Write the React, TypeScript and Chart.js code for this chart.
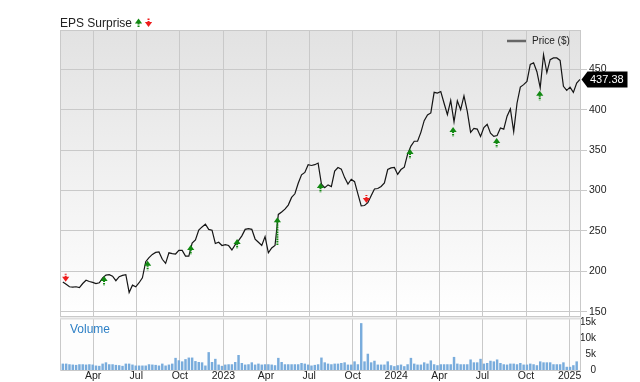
import React, { useEffect, useRef } from "react";
import { Chart, registerables } from "chart.js";

Chart.register(...registerables);

// ---------- data ----------
const FIRST_WEEK = "2022-01-27"; // weekly closes start here
const X_MIN_DATE = "2022-01-21";
const X_MAX_DATE = "2025-01-23";

const PRICE = [
  187, 184, 181, 180.5, 181, 180, 185, 189, 187.5, 186.5,
  185, 186, 192, 195.5, 196, 194, 188.5, 193.5, 195, 196,
  174, 183, 181, 186, 192, 212, 217, 221, 223.5, 224,
  215, 210, 223, 222, 221.5, 226, 226, 219, 219, 235,
  239, 251, 255, 258.5, 252, 251, 234.5, 236, 232, 233,
  232, 226.5, 233, 238, 244, 252, 253, 252, 240, 236,
  232, 243, 223, 229, 232, 270.5, 273.5, 277, 282, 291.5,
  296, 309, 319.5, 322.5, 332, 331, 332, 334, 308, 303.5,
  307, 305, 324, 328.5, 326.5, 316, 308, 314, 311, 296,
  281, 281.5, 285, 293.5, 302, 302.5, 305, 309.5, 326, 328,
  328.5, 320, 326, 329, 345, 355, 361, 361, 372, 386.5,
  393.5, 396, 421.5, 420.5, 422.5, 408, 394, 411.5, 385, 411,
  400, 417, 398, 372, 377, 376, 367, 378, 382, 371,
  367, 368, 377.5, 376, 392, 401, 373, 408, 428, 431,
  435, 456, 458, 447, 427, 468, 446, 462, 464, 464,
  461, 429, 424, 428, 421.5, 433, 437.38,
];

// weekly volume, thousands
const VOLUME_K = [
  1.9, 1.9, 1.7, 1.6, 1.5, 1.7, 1.7, 1.6, 1.7, 1.6,
  1.3, 1.2, 1.9, 2.3, 1.7, 1.7, 1.5, 1.4, 1.2, 1.9,
  1.9, 1.6, 1.3, 1.3, 1.3, 1.3, 1.7, 1.6, 1.5, 1.3,
  1.9, 1.3, 1.6, 1.9, 3.7, 2.95, 2.6, 3.3, 3.8, 3.8,
  2.7, 2.4, 2.3, 1.3, 5.5, 2.4, 3.4, 1.6, 1.2, 1.6,
  1.7, 1.7, 2.4, 4.6, 2.1, 1.6, 1.7, 2.3, 1.6, 1.9,
  1.6, 1.7, 1.7, 1.6, 1.4, 3.7, 2.4, 1.7, 1.7, 1.7,
  1.7, 1.7, 2.1, 1.9, 1.6, 1.3, 1.5, 1.7,
  3.8, 2.3, 1.9, 1.7, 1.9, 1.9, 2.1, 2.3, 1.6, 1.6,
  2.6, 1.7, 14.6, 2.6, 5.0, 2.3, 2.8, 1.6, 1.6, 1.6,
  2.6, 1.4, 1.1, 1.4, 1.6, 1.1, 1.7, 3.7, 1.9, 1.6,
  1.6, 2.3, 1.9, 2.9, 1.7, 1.4, 1.7, 1.7, 1.7, 1.7,
  4.0, 1.9, 1.7, 1.7, 1.7, 3.2, 2.3, 2.3, 3.4, 1.9,
  2.1, 2.8, 2.6, 3.2, 2.1, 1.7, 1.6, 1.9, 1.9, 1.7,
  2.1, 1.6, 1.6, 1.9, 1.7, 1.4, 2.6, 2.3, 2.3, 2.3,
  1.7, 1.7, 1.7, 2.3, 0.9, 0.9, 1.4, 2.6,
];

const QUARTER_DATES = [
  "2022-04-01", "2022-07-01", "2022-10-01", "2023-01-01",
  "2023-04-01", "2023-07-01", "2023-10-01", "2024-01-01",
  "2024-04-01", "2024-07-01", "2024-10-01", "2025-01-01",
];
const QUARTER_LABELS = ["Apr", "Jul", "Oct", "2023", "Apr", "Jul", "Oct", "2024", "Apr", "Jul", "Oct", "2025"];

const PRICE_TICKS = [150, 200, 250, 300, 350, 400, 450];
const PRICE_MIN = 143.6;
const PRICE_MAX = 498.6;
const VOLUME_TICKS_K = [0, 5, 10, 15];
const VOLUME_MAX_K = 16;

const SURPRISE_DATES = [
  "2022-02-02", "2022-04-24", "2022-07-25", "2022-10-24", "2023-01-30", "2023-04-25",
  "2023-07-25", "2023-10-30", "2024-01-30", "2024-04-30", "2024-07-31", "2024-10-30",
];
const SURPRISE_DIR = ["down", "up", "up", "up", "up", "up", "up", "down", "up", "up", "up", "up"];
const SURPRISE_PRICE = [187.2, 194.3, 213.2, 232.6, 240.0, 266.9, 309.3, 284.6, 351.4, 378.6, 365.0, 423.5];
const SURPRISE_STEM_FROM = [null, null, null, null, null, 232.6, null, null, null, null, null, null];

const LAST_PRICE = 437.38;
const TITLE = "EPS Surprise";
const LEGEND_LABEL = "Price ($)";
const VOLUME_LABEL = "Volume";

// ---------- helpers ----------
const DAY_MS = 86400000;
const EPOCH = Date.UTC(2022, 0, 1);
const toDay = (s: string) => (Date.parse(s + "T00:00:00Z") - EPOCH) / DAY_MS;
const weekDay = (i: number) => toDay(FIRST_WEEK) + 7 * i;

const FONT = "'Liberation Sans', Arial, Helvetica, sans-serif";
const GRID = "#c9c9c9";
const UP = "#118811";
const DOWN = "#ee1c1c";

function drawArrow(ctx: CanvasRenderingContext2D, x: number, tipY: number, dir: string, stemEndY?: number | null) {
  const hw = 3.6, hh = 5, sw = 2;
  ctx.save();
  ctx.fillStyle = dir === "up" ? UP : DOWN;
  ctx.strokeStyle = dir === "up" ? UP : DOWN;
  ctx.beginPath();
  if (dir === "up") {
    ctx.moveTo(x, tipY);
    ctx.lineTo(x - hw, tipY + hh);
    ctx.lineTo(x + hw, tipY + hh);
  } else {
    ctx.moveTo(x, tipY);
    ctx.lineTo(x - hw, tipY - hh);
    ctx.lineTo(x + hw, tipY - hh);
  }
  ctx.closePath();
  ctx.fill();
  const s0 = dir === "up" ? tipY + hh - 0.5 : tipY - hh + 0.5;
  const s1 = stemEndY != null ? stemEndY : dir === "up" ? s0 + 5 : s0 - 3.5;
  ctx.lineWidth = sw;
  ctx.setLineDash([1.6, 0.8]);
  ctx.beginPath();
  ctx.moveTo(x, s0);
  ctx.lineTo(x, s1);
  ctx.stroke();
  ctx.restore();
}

const pricePanelPlugin = {
  id: "pricePanel",
  beforeDraw(chart: any) {
    const { ctx, chartArea: a } = chart;
    const g = ctx.createLinearGradient(0, a.top, 0, a.bottom);
    g.addColorStop(0, "#e2e2e2");
    g.addColorStop(1, "#ffffff");
    ctx.save();
    ctx.fillStyle = g;
    ctx.fillRect(a.left, a.top, a.right - a.left, a.bottom - a.top);
    ctx.restore();
  },
  afterDatasetsDraw(chart: any) {
    const { ctx } = chart;
    const xs = chart.scales.x;
    const ys = chart.scales.y;
    SURPRISE_DATES.forEach((d, i) => {
      const x = xs.getPixelForValue(toDay(d));
      const y = ys.getPixelForValue(SURPRISE_PRICE[i]);
      const stem = SURPRISE_STEM_FROM[i];
      drawArrow(ctx, x, y, SURPRISE_DIR[i], stem != null ? ys.getPixelForValue(stem) : null);
    });
  },
  afterDraw(chart: any) {
    const { ctx, chartArea: a } = chart;
    ctx.save();
    // border
    ctx.strokeStyle = GRID;
    ctx.lineWidth = 1;
    ctx.strokeRect(a.left + 0.5, a.top + 0.5, a.right - a.left, a.bottom - a.top - 1);
    // title
    ctx.font = `12px ${FONT}`;
    ctx.fillStyle = "#222";
    ctx.textBaseline = "alphabetic";
    ctx.textAlign = "left";
    ctx.fillText(TITLE, a.left, 27);
    const tw = ctx.measureText(TITLE).width;
    drawArrow(ctx, a.left + tw + 6.5, 18.5, "up", 27);
    drawArrow(ctx, a.left + tw + 16.5, 27, "down", 18.5);
    // legend
    ctx.strokeStyle = "#666";
    ctx.lineWidth = 2.5;
    ctx.beginPath();
    ctx.moveTo(a.right - 73, 41);
    ctx.lineTo(a.right - 54, 41);
    ctx.stroke();
    ctx.font = `10px ${FONT}`;
    ctx.fillStyle = "#222";
    ctx.textBaseline = "middle";
    ctx.fillText(LEGEND_LABEL, a.right - 48, 41.5);
    // last price tag
    const yl = chart.scales.y.getPixelForValue(LAST_PRICE);
    const x0 = a.right + 1.5;
    ctx.fillStyle = "#000";
    ctx.beginPath();
    ctx.moveTo(x0, yl);
    ctx.lineTo(x0 + 6, yl - 8);
    ctx.lineTo(x0 + 46, yl - 8);
    ctx.lineTo(x0 + 46, yl + 8);
    ctx.lineTo(x0 + 6, yl + 8);
    ctx.closePath();
    ctx.fill();
    ctx.fillStyle = "#fff";
    ctx.font = `11px ${FONT}`;
    ctx.textAlign = "left";
    ctx.fillText(LAST_PRICE.toFixed(2), x0 + 8.5, yl + 0.5);
    ctx.restore();
  },
};

const volumePanelPlugin = {
  id: "volumePanel",
  beforeDraw(chart: any) {
    const { ctx, chartArea: a } = chart;
    ctx.save();
    ctx.fillStyle = "#fdfdfd";
    ctx.fillRect(a.left, a.top, a.right - a.left, a.bottom - a.top);
    ctx.restore();
  },
  afterDraw(chart: any) {
    const { ctx, chartArea: a } = chart;
    ctx.save();
    ctx.strokeStyle = GRID;
    ctx.lineWidth = 1;
    ctx.beginPath();
    ctx.moveTo(a.left + 0.5, a.top);
    ctx.lineTo(a.left + 0.5, a.bottom + 0.5);
    ctx.lineTo(a.right + 0.5, a.bottom + 0.5);
    ctx.lineTo(a.right + 0.5, a.top);
    ctx.stroke();
    ctx.fillStyle = "#dedede";
    ctx.fillRect(a.left, a.top - 1.5, a.right - a.left + 1, 2);
    ctx.font = `12px ${FONT}`;
    ctx.fillStyle = "#2e80c6";
    ctx.textBaseline = "middle";
    ctx.textAlign = "left";
    ctx.fillText(VOLUME_LABEL, a.left + 10, a.top + 11);
    ctx.restore();
  },
};

const xMin = toDay(X_MIN_DATE);
const xMax = toDay(X_MAX_DATE);
const quarterTicks = () => QUARTER_DATES.map((d) => ({ value: toDay(d) }));
const noPad = (s: any) => {
  s.paddingTop = 0;
  s.paddingBottom = 0;
  s.paddingLeft = 0;
  s.paddingRight = 0;
};

export default function App() {
  const priceRef = useRef<HTMLCanvasElement | null>(null);
  const volRef = useRef<HTMLCanvasElement | null>(null);

  useEffect(() => {
    Chart.defaults.font.family = FONT;
    const tickFont = { size: 10.5, family: FONT };

    const priceChart = new Chart(priceRef.current as HTMLCanvasElement, {
      type: "line",
      data: {
        datasets: [
          {
            data: PRICE.map((p, i) => ({ x: weekDay(i), y: p })),
            borderColor: "#151515",
            borderWidth: 1.2,
            pointRadius: 0,
            tension: 0,
          },
        ],
      },
      options: {
        responsive: false,
        animation: false,
        events: [],
        layout: { padding: { left: 60, right: 0, top: 30, bottom: 1 } },
        plugins: { legend: { display: false }, tooltip: { enabled: false }, title: { display: false } },
        scales: {
          x: {
            type: "linear",
            bounds: "data",
            min: xMin,
            max: xMax,
            afterBuildTicks: (s: any) => {
              s.ticks = quarterTicks();
            },
            afterFit: (s: any) => {
              s.height = 0;
              noPad(s);
            },
            grid: { color: GRID, drawTicks: false },
            border: { display: false },
            ticks: { display: false },
          },
          y: {
            type: "linear",
            position: "right",
            bounds: "data",
            min: PRICE_MIN,
            max: PRICE_MAX,
            afterBuildTicks: (s: any) => {
              s.ticks = PRICE_TICKS.map((v) => ({ value: v }));
            },
            afterFit: (s: any) => {
              s.width = 60;
              noPad(s);
            },
            grid: { color: GRID, tickLength: 7, drawTicks: true },
            border: { display: false },
            ticks: { padding: 2, color: "#222", font: tickFont, autoSkip: false, callback: (v: any) => String(v) },
          },
        },
      },
      plugins: [pricePanelPlugin],
    } as any);

    const volChart = new Chart(volRef.current as HTMLCanvasElement, {
      type: "bar",
      data: {
        datasets: [
          {
            data: VOLUME_K.map((v, i) => ({ x: weekDay(i), y: v })),
            backgroundColor: "#79acdc",
            barThickness: 1.8,
          },
        ],
      },
      options: {
        responsive: false,
        animation: false,
        events: [],
        layout: { padding: { left: 60, right: 44, top: 5, bottom: 0 } },
        plugins: { legend: { display: false }, tooltip: { enabled: false } },
        scales: {
          x: {
            type: "linear",
            bounds: "data",
            min: xMin,
            max: xMax,
            offset: false,
            afterBuildTicks: (s: any) => {
              s.ticks = quarterTicks();
            },
            afterFit: (s: any) => {
              s.height = 12;
              noPad(s);
            },
            grid: { color: GRID, drawTicks: false, offset: false },
            border: { display: false },
            ticks: {
              padding: 0,
              color: "#222",
              font: tickFont,
              autoSkip: false,
              maxRotation: 0,
              callback: (_v: any, i: number) => QUARTER_LABELS[i],
            },
          },
          y: {
            type: "linear",
            position: "right",
            bounds: "data",
            min: 0,
            max: VOLUME_MAX_K,
            afterBuildTicks: (s: any) => {
              s.ticks = VOLUME_TICKS_K.map((v) => ({ value: v }));
            },
            afterFit: (s: any) => {
              s.width = 16;
              noPad(s);
            },
            grid: { display: false },
            border: { display: false },
            ticks: {
              padding: 0,
              crossAlign: "far",
              color: "#222",
              font: { size: 10, family: FONT },
              autoSkip: false,
              callback: (v: any) => (v === 0 ? "0" : `${v}k`),
            },
          },
        },
      },
      plugins: [volumePanelPlugin],
    } as any);

    return () => {
      priceChart.destroy();
      volChart.destroy();
    };
  }, []);

  return (
    <div style={{ position: "absolute", left: 0, top: 0, width: 640, height: 382, background: "#fff" }}>
      <canvas ref={priceRef} width={640} height={318} style={{ position: "absolute", left: 0, top: 0 }} />
      <canvas ref={volRef} width={640} height={68} style={{ position: "absolute", left: 0, top: 314 }} />
    </div>
  );
}
